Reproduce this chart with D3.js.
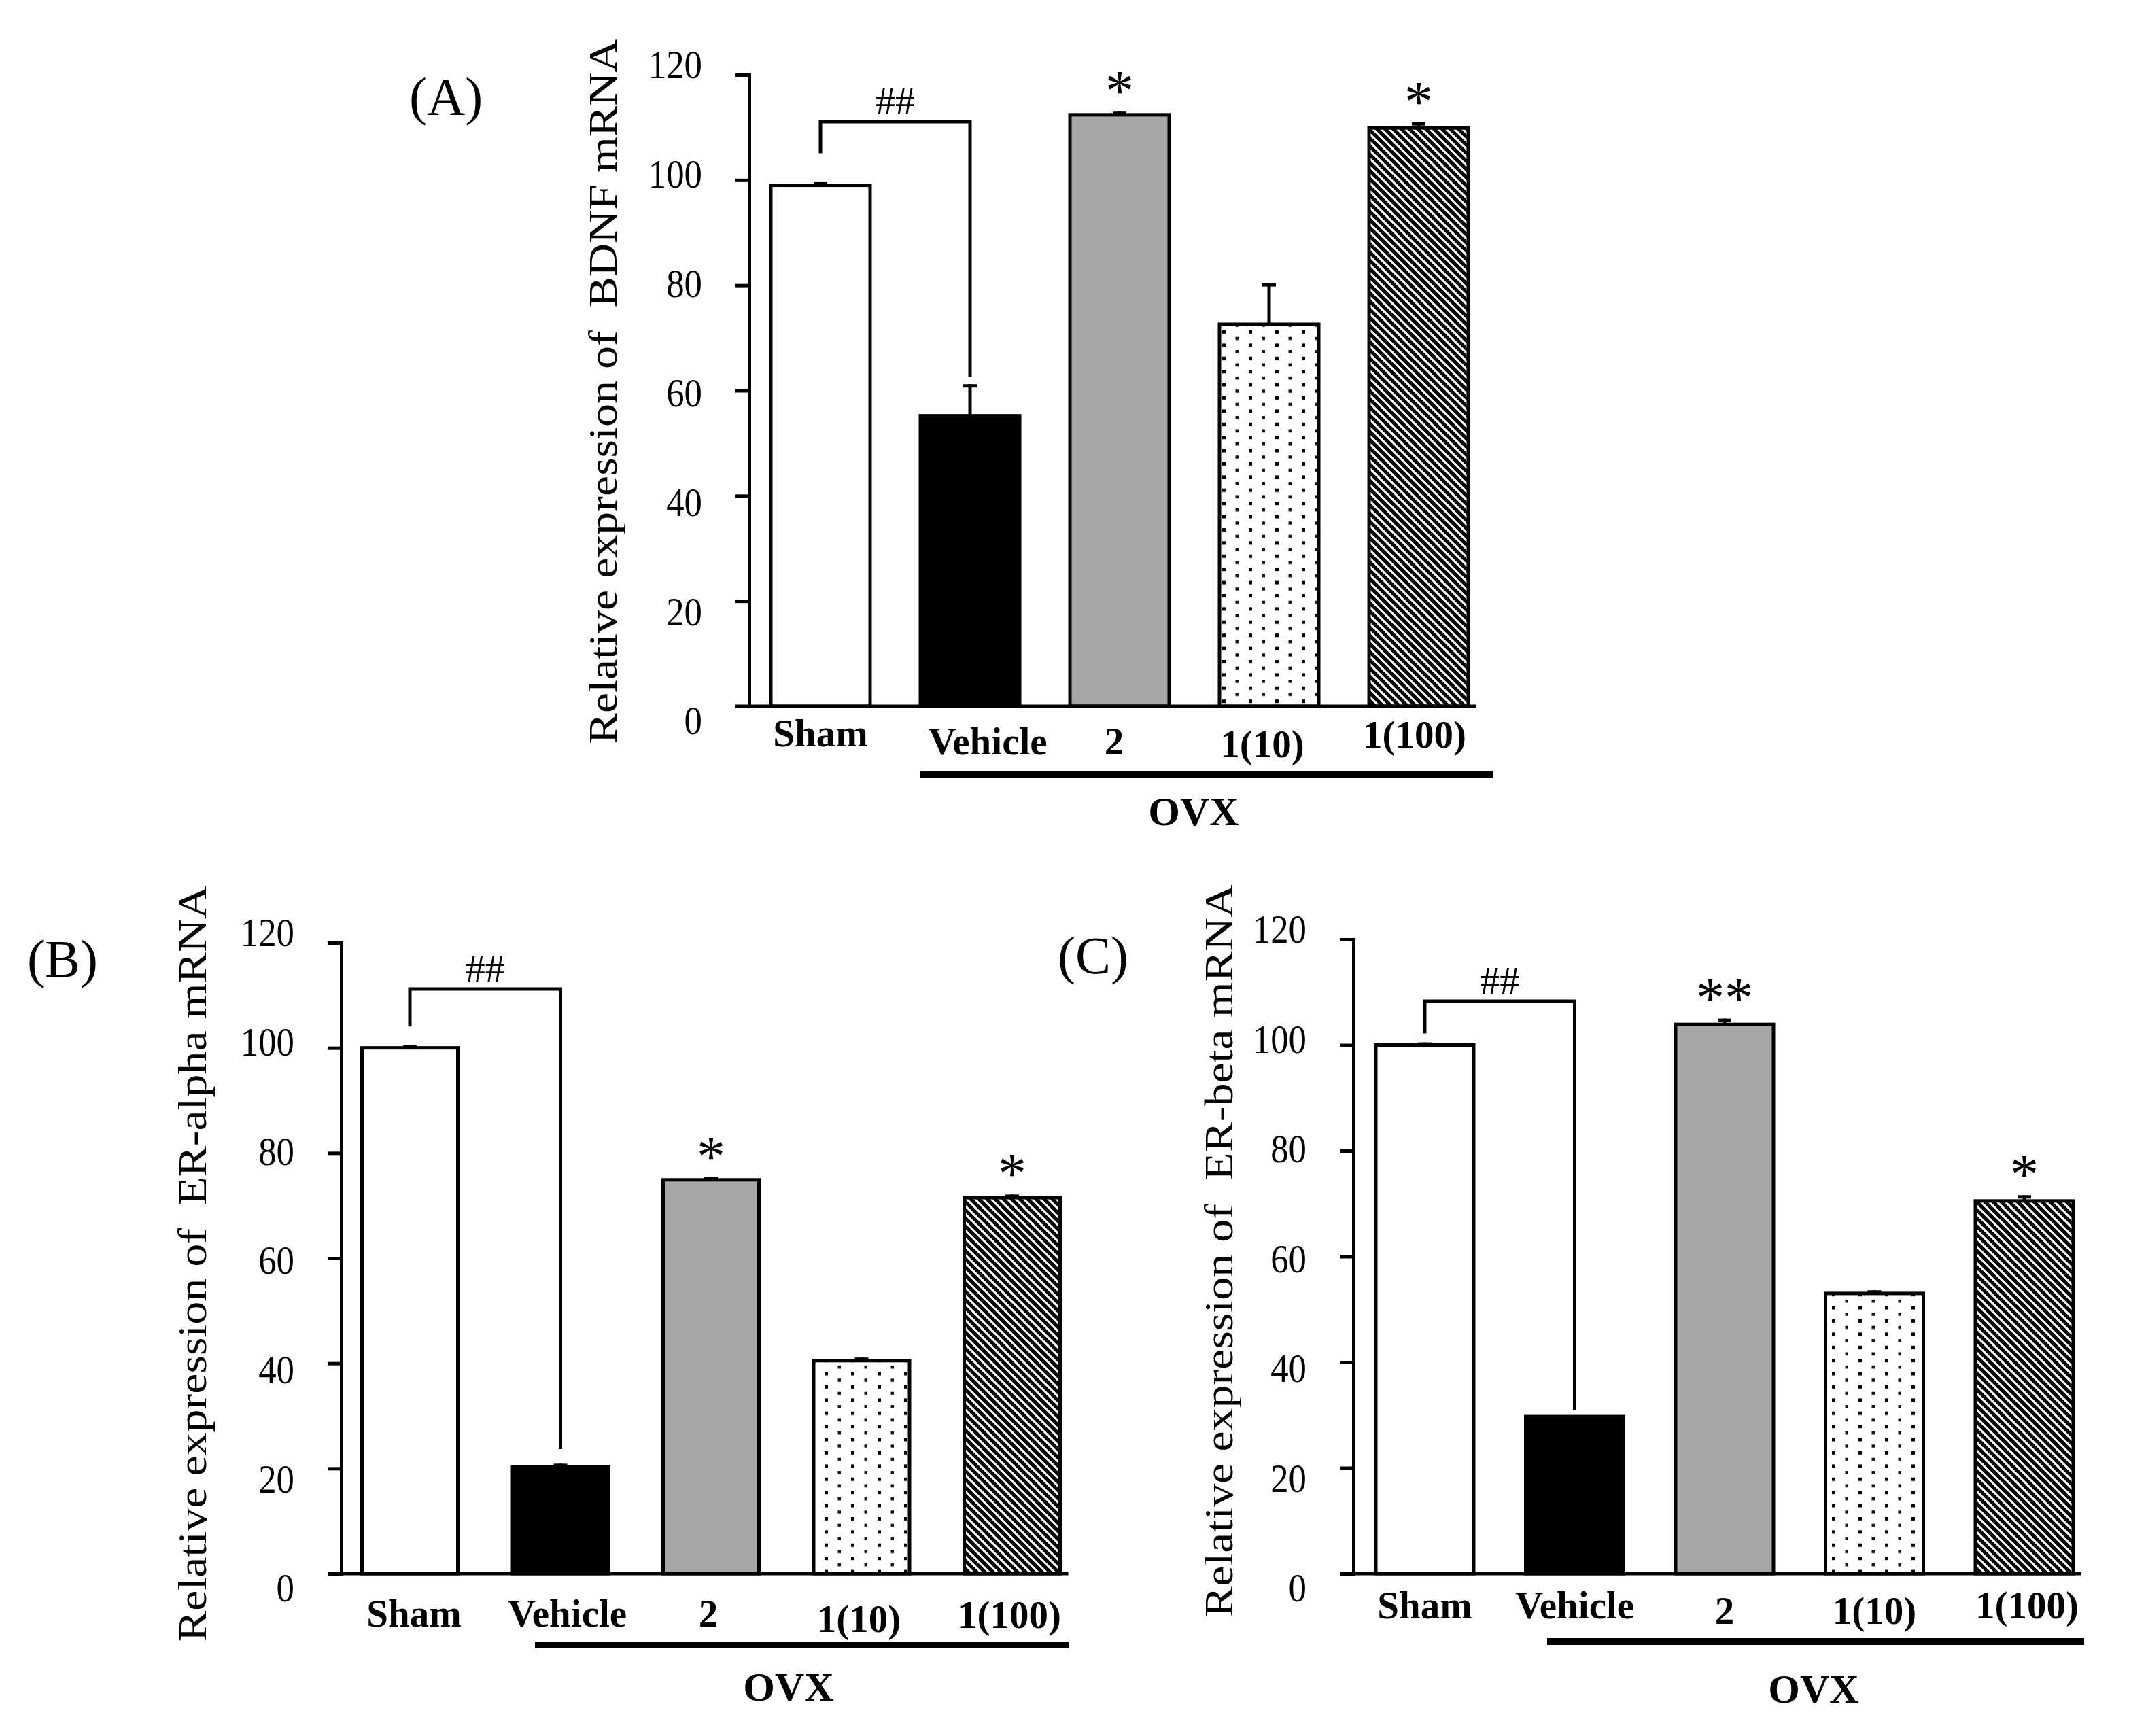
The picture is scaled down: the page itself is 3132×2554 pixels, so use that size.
<!DOCTYPE html>
<html>
<head>
<meta charset="utf-8">
<script src="https://cdn.jsdelivr.net/npm/d3@7"></script>
<style>
  html, body { margin: 0; padding: 0; background: #fff; }
  svg { display: block; }
</style>
</head>
<body>
<div id="chart"></div>
<script>
// data ------------------------------------------------------------------------------
const categories = ['Sham', 'Vehicle', '2', '1(10)', '1(100)'];
const yTicks = [0, 20, 40, 60, 80, 100, 120];

const bdnfMean = [99.0, 55.2, 112.4, 72.6, 109.9];
const bdnfErr = [0.6, 6.0, 0.6, 7.8, 1.1];
const bdnfStars = ['', '', '*', '', '*'];
const bdnfBracket = [105.4, 111.1, 62.9]; // left leg end, bar, right leg end

const alphaMean = [100.0, 20.3, 74.9, 40.5, 71.5];
const alphaErr = [0.5, 0.6, 0.5, 0.6, 0.6];
const alphaStars = ['', '', '*', '', '*'];
const alphaBracket = [104.4, 111.2, 24.0];

const betaMean = [100.0, 29.7, 103.9, 53.0, 70.5];
const betaErr = [0.5, 0.0, 1.1, 0.6, 1.1];
const betaStars = ['', '', '**', '', '*'];
const betaBracket = [102.5, 108.3, 31.3];

// layout ----------------------------------------------------------------------------
const W = 3132, H = 2554;
const serif = "'Liberation Serif', 'Times New Roman', Times, serif";
const fills = ['#ffffff', '#000000', '#a6a6a6', 'url(#dots)', 'url(#hatch)'];

const panels = [
  { key: 'A', letter: '(A)', title: 'Relative expression of  BDNF mRNA',
    mean: bdnfMean, err: bdnfErr, stars: bdnfStars, bracket: bdnfBracket,
    axisX: 1102, y0: 1039, yTop: 110, firstCenter: 1207, step: 220, barW: 146,
    letterPos: [602, 168], titlePos: [893, 576], catY: 1106,
    catDx: [0, 26, -8, -10, -6], catDy: [-8, 4, 4, 8, -6],
    ovxLine: [1353, 2196, 1139], ovxText: [1756, 1214] },
  { key: 'B', letter: '(B)', title: 'Relative expression of  ER-alpha mRNA',
    mean: alphaMean, err: alphaErr, stars: alphaStars, bracket: alphaBracket,
    axisX: 502, y0: 2315, yTop: 1387, firstCenter: 603, step: 221.5, barW: 141,
    letterPos: [40, 1437], titlePos: [289, 1859], catY: 2395,
    catDx: [6, 10, -4, -4, -4], catDy: [-2, -2, -2, 6, 0],
    ovxLine: [787, 1573, 2420], ovxText: [1160, 2502] },
  { key: 'C', letter: '(C)', title: 'Relative expression of  ER-beta mRNA',
    mean: betaMean, err: betaErr, stars: betaStars, bracket: betaBracket,
    axisX: 1991, y0: 2315, yTop: 1382, firstCenter: 2096, step: 220.5, barW: 144,
    letterPos: [1556, 1432], titlePos: [1799, 1840], catY: 2385,
    catDx: [0, 0, 0, 0, 4], catDy: [-4, -4, 4, 4, -4],
    ovxLine: [2276, 3066, 2415], ovxText: [2668, 2505] }
];

// svg -------------------------------------------------------------------------------
const svg = d3.select('#chart').append('svg')
  .attr('width', W)
  .attr('height', H)
  .attr('viewBox', `0 0 ${W} ${H}`);
svg.append('rect').attr('width', W).attr('height', H).attr('fill', '#fff');

// fill patterns ---------------------------------------------------------------------
const defs = svg.append('defs');
const dots = defs.append('pattern')
  .attr('id', 'dots')
  .attr('patternUnits', 'userSpaceOnUse')
  .attr('width', 39)
  .attr('height', 19.4);
dots.append('rect').attr('width', 39).attr('height', 19.4).attr('fill', '#fff');
dots.append('rect').attr('x', 4).attr('y', 1).attr('width', 5).attr('height', 5).attr('fill', '#000');
dots.append('rect').attr('x', 23.5).attr('y', 10.7).attr('width', 4.5).attr('height', 4.5).attr('fill', '#111');

const hatch = defs.append('pattern')
  .attr('id', 'hatch')
  .attr('patternUnits', 'userSpaceOnUse')
  .attr('width', 12)
  .attr('height', 12);
hatch.append('rect').attr('width', 12).attr('height', 12).attr('fill', '#fff');
hatch.append('path')
  .attr('d', 'M-3,-3L15,15M-9,3L3,15M3,-9L15,3')
  .attr('stroke', '#000')
  .attr('stroke-width', 5.2);

// one panel -------------------------------------------------------------------------
function drawPanel (p) {
  const g = svg.append('g').attr('class', 'panel-' + p.key);
  const pad = 1 - p.barW / p.step;
  const start = p.firstCenter - p.step / 2;
  const x = d3.scaleBand()
    .domain(categories)
    .range([start, start + p.step * categories.length])
    .paddingInner(pad)
    .paddingOuter(pad / 2);
  const y = d3.scaleLinear().domain([0, 120]).range([p.y0, p.yTop]);
  const cx = d => x(d) + x.bandwidth() / 2;
  const idx = d => categories.indexOf(d);

  // bars
  g.selectAll('.bar')
    .data(categories)
    .join('rect')
    .attr('class', 'bar')
    .attr('x', d => x(d))
    .attr('y', (d, i) => y(p.mean[i]))
    .attr('width', x.bandwidth())
    .attr('height', (d, i) => p.y0 - y(p.mean[i]))
    .attr('fill', (d, i) => fills[i])
    .attr('stroke', '#000')
    .attr('stroke-width', 5);

  // error bars (upper only)
  const withErr = categories.filter((d, i) => p.err[i] > 0);
  g.selectAll('.err-stem')
    .data(withErr)
    .join('line')
    .attr('x1', cx)
    .attr('x2', cx)
    .attr('y1', d => y(p.mean[idx(d)]))
    .attr('y2', d => y(p.mean[idx(d)] + p.err[idx(d)]))
    .attr('stroke', '#000')
    .attr('stroke-width', 5);
  g.selectAll('.err-cap')
    .data(withErr)
    .join('rect')
    .attr('x', d => cx(d) - 10)
    .attr('y', d => y(p.mean[idx(d)] + p.err[idx(d)]))
    .attr('width', 20)
    .attr('height', 5)
    .attr('fill', '#000');

  // y axis
  const axis = d3.axisLeft(y).tickValues(yTicks).tickSize(20).tickSizeOuter(0).tickFormat('');
  const ag = g.append('g')
    .attr('transform', `translate(${p.axisX},0)`)
    .call(axis);
  ag.selectAll('path, line').attr('stroke', '#000').attr('stroke-width', 5);
  ag.select('.domain').attr('stroke-linecap', 'square');

  // tick labels sit a little apart from their ticks in the original
  const yLabel = d3.scaleLinear().domain([0, 120]).range([p.y0 + 21, p.yTop - 15]);
  g.selectAll('.tick-label')
    .data(yTicks)
    .join('text')
    .attr('class', 'tick-label')
    .attr('transform', d => `translate(${p.axisX - 69},${yLabel(d)}) scale(0.88,1)`)
    .attr('dy', '0.34em')
    .attr('text-anchor', 'end')
    .attr('font-family', serif)
    .attr('font-size', 60)
    .text(d => d);

  // baseline
  const last = categories[categories.length - 1];
  g.append('line')
    .attr('x1', p.axisX - 20)
    .attr('x2', x(last) + x.bandwidth() + 12)
    .attr('y1', p.y0)
    .attr('y2', p.y0)
    .attr('stroke', '#000')
    .attr('stroke-width', 5);

  // category labels
  g.selectAll('.cat-label')
    .data(categories)
    .join('text')
    .attr('x', (d, i) => cx(d) + p.catDx[i])
    .attr('y', (d, i) => p.catY + p.catDy[i])
    .attr('text-anchor', 'middle')
    .attr('font-family', serif)
    .attr('font-weight', 'bold')
    .attr('font-size', 57)
    .text(d => d);

  // OVX group bar
  g.append('rect')
    .attr('x', p.ovxLine[0])
    .attr('y', p.ovxLine[2] - 5)
    .attr('width', p.ovxLine[1] - p.ovxLine[0])
    .attr('height', 10)
    .attr('fill', '#000');
  g.append('text')
    .attr('x', p.ovxText[0])
    .attr('y', p.ovxText[1])
    .attr('text-anchor', 'middle')
    .attr('font-family', serif)
    .attr('font-weight', 'bold')
    .attr('font-size', 60)
    .text('OVX');

  // stars
  g.selectAll('.star')
    .data(categories.filter((d, i) => p.stars[i]))
    .join('text')
    .attr('x', cx)
    .attr('y', d => y(p.mean[idx(d)] + p.err[idx(d)]) - 2)
    .attr('text-anchor', 'middle')
    .attr('font-family', serif)
    .attr('font-size', 84)
    .text(d => p.stars[idx(d)]);

  // ## bracket Sham vs Vehicle
  const b = p.bracket;
  const xl = cx(categories[0]);
  const xr = cx(categories[1]);
  g.append('path')
    .attr('d', `M${xl},${y(b[0])}V${y(b[1])}H${xr}V${y(b[2])}`)
    .attr('fill', 'none')
    .attr('stroke', '#000')
    .attr('stroke-width', 5)
    .attr('stroke-linecap', 'square');
  g.append('text')
    .attr('x', (xl + xr) / 2)
    .attr('y', y(b[1]) - 11)
    .attr('text-anchor', 'middle')
    .attr('font-family', serif)
    .attr('font-size', 58)
    .text('##');

  // axis title
  g.append('text')
    .attr('transform', `translate(${p.titlePos[0]},${p.titlePos[1]}) rotate(-90) scale(1,0.88)`)
    .attr('dy', '0.23em')
    .attr('text-anchor', 'middle')
    .attr('font-family', serif)
    .attr('font-size', 68)
    .attr('xml:space', 'preserve')
    .style('white-space', 'pre')
    .text(p.title);

  // panel letter
  g.append('text')
    .attr('x', p.letterPos[0])
    .attr('y', p.letterPos[1])
    .attr('font-family', serif)
    .attr('font-size', 78)
    .text(p.letter);
}

panels.forEach(drawPanel);
</script>
</body>
</html>
